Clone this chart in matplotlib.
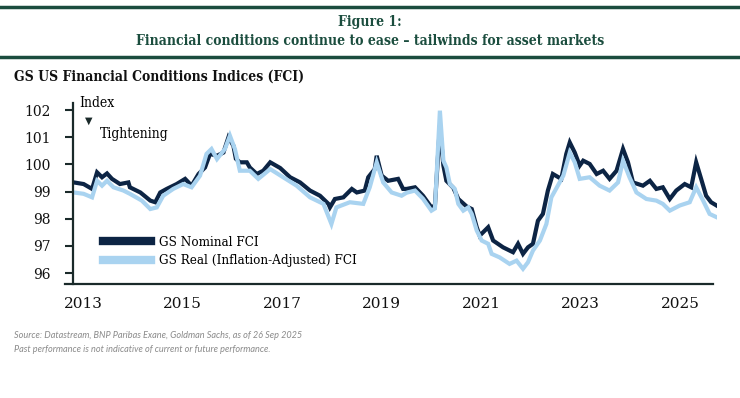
import numpy as np
import matplotlib.pyplot as plt

# decimal years / index levels
nominal_x = [2012.81, 2013.01, 2013.18, 2013.28, 2013.38, 2013.48, 2013.58, 2013.74, 2013.91, 2013.94,
             2014.15, 2014.35, 2014.45, 2014.55, 2014.68, 2014.88, 2015.05, 2015.18, 2015.32, 2015.45,
             2015.55, 2015.69, 2015.82, 2015.92, 2016.02, 2016.07, 2016.15, 2016.29, 2016.35, 2016.49,
             2016.62, 2016.76, 2016.96, 2017.16, 2017.36, 2017.56, 2017.76, 2017.93, 2017.96, 2018.06,
             2018.23, 2018.40, 2018.50, 2018.66, 2018.73, 2018.86, 2018.90, 2019.00, 2019.13, 2019.33,
             2019.43, 2019.50, 2019.67, 2019.83, 2020.00, 2020.07, 2020.17, 2020.24, 2020.30, 2020.44,
             2020.54, 2020.71, 2020.81, 2020.91, 2020.97, 2021.14, 2021.24, 2021.44, 2021.64, 2021.74,
             2021.84, 2021.94, 2022.04, 2022.14, 2022.24, 2022.34, 2022.44, 2022.61, 2022.71, 2022.78,
             2022.88, 2022.98, 2023.05, 2023.18, 2023.32, 2023.45, 2023.58, 2023.72, 2023.85, 2023.95,
             2024.05, 2024.25, 2024.39, 2024.52, 2024.65, 2024.79, 2024.92, 2025.09, 2025.22, 2025.32,
             2025.42, 2025.52, 2025.62, 2025.73]
nominal_fci = [99.34, 99.28, 99.10, 99.71, 99.53, 99.67, 99.47, 99.28, 99.34, 99.16,
               98.97, 98.67, 98.61, 98.97, 99.10, 99.28, 99.47, 99.22, 99.65, 99.89,
               100.39, 100.32, 100.44, 101.00, 100.69, 100.21, 100.08, 100.08, 99.89, 99.65,
               99.77, 100.08, 99.87, 99.53, 99.34, 99.04, 98.85, 98.55, 98.42, 98.73,
               98.79, 99.10, 98.97, 99.04, 99.53, 99.83, 100.32, 99.59, 99.40, 99.47,
               99.10, 99.10, 99.16, 98.85, 98.42, 98.49, 101.43, 99.96, 99.40, 99.14,
               98.73, 98.45, 98.36, 97.69, 97.38, 97.69, 97.20, 96.95, 96.77, 97.08,
               96.71, 96.95, 97.08, 97.93, 98.18, 99.04, 99.65, 99.47, 100.39, 100.81,
               100.44, 99.96, 100.14, 100.02, 99.65, 99.77, 99.47, 99.77, 100.57, 100.08,
               99.34, 99.22, 99.40, 99.10, 99.16, 98.73, 99.04, 99.28, 99.16, 100.08,
               99.47, 98.85, 98.61, 98.49]

real_x = [2012.81, 2013.01, 2013.18, 2013.28, 2013.38, 2013.48, 2013.61, 2013.81, 2013.94, 2014.18,
          2014.35, 2014.48, 2014.61, 2014.81, 2015.01, 2015.18, 2015.35, 2015.48, 2015.58, 2015.69,
          2015.85, 2015.95, 2016.05, 2016.15, 2016.35, 2016.52, 2016.76, 2017.02, 2017.29, 2017.56,
          2017.83, 2017.99, 2018.09, 2018.36, 2018.63, 2018.76, 2018.90, 2019.03, 2019.20, 2019.40,
          2019.50, 2019.67, 2019.83, 2020.00, 2020.07, 2020.17, 2020.24, 2020.30, 2020.37, 2020.47,
          2020.54, 2020.64, 2020.74, 2020.81, 2020.91, 2021.01, 2021.14, 2021.21, 2021.37, 2021.57,
          2021.71, 2021.84, 2021.94, 2022.04, 2022.18, 2022.31, 2022.41, 2022.54, 2022.65, 2022.78,
          2022.88, 2022.98, 2023.18, 2023.38, 2023.58, 2023.75, 2023.85, 2023.98, 2024.12, 2024.32,
          2024.52, 2024.65, 2024.79, 2024.99, 2025.19, 2025.32, 2025.46, 2025.59, 2025.73]
real_fci = [98.97, 98.92, 98.79, 99.40, 99.22, 99.40, 99.16, 99.04, 98.92, 98.67,
            98.36, 98.42, 98.85, 99.10, 99.28, 99.16, 99.59, 100.39, 100.57, 100.20,
            100.57, 101.06, 100.57, 99.77, 99.77, 99.47, 99.83, 99.53, 99.22, 98.79,
            98.55, 97.81, 98.42, 98.61, 98.55, 99.16, 100.08, 99.34, 98.97, 98.85,
            98.96, 99.04, 98.74, 98.30, 98.38, 101.98, 100.14, 99.89, 99.28, 99.10,
            98.55, 98.30, 98.42, 98.18, 97.57, 97.20, 97.08, 96.71, 96.58, 96.34,
            96.46, 96.16, 96.40, 96.83, 97.20, 97.81, 98.79, 99.22, 99.59, 100.44,
            100.08, 99.47, 99.53, 99.22, 99.04, 99.34, 100.14, 99.53, 98.97, 98.73,
            98.67, 98.55, 98.30, 98.49, 98.61, 99.16, 98.67, 98.18, 98.06]

year_ticks = [2013, 2015, 2017, 2019, 2021, 2023, 2025]
index_ticks = [96, 97, 98, 99, 100, 101, 102]

green = '#1b4d3e'
navy = '#0c2444'
light = '#a9d3f0'
serif = 'DejaVu Serif'

fig = plt.figure(figsize=(7.4, 3.98), dpi=100)
ax = fig.add_axes([0.0982, 0.2864, 0.8708, 0.4546])

ax.plot(nominal_x, nominal_fci, color=navy, lw=3.0, solid_joinstyle='miter',
        label='GS Nominal FCI')
ax.plot(real_x, real_fci, color=light, lw=3.0, solid_joinstyle='miter',
        label='GS Real (Inflation-Adjusted) FCI')

ax.set_xlim(2012.79, 2025.74)
ax.set_ylim(95.6, 102.26)
ax.set_xticks(year_ticks)
ax.set_xticklabels([str(y) for y in year_ticks], fontfamily=serif, fontsize=11)
ax.set_yticks(index_ticks)
ax.set_yticklabels([str(v) for v in index_ticks], fontfamily=serif, fontsize=10)
ax.tick_params(axis='x', length=0, pad=9, colors='#111111')
ax.tick_params(axis='y', length=6, width=1.5, pad=10, colors='#1a2a2a', labelcolor='#111111')

for s in ['top', 'right', 'bottom']:
    ax.spines[s].set_visible(False)
ax.spines['left'].set_linewidth(1.6)
ax.spines['left'].set_color('#1a2a2a')
ax.plot([-0.012, 0.994], [0, 0], transform=ax.transAxes, color='#1a2a2a',
        lw=1.6, clip_on=False)

leg = ax.legend(loc='lower left', bbox_to_anchor=(0.028, 0.025), frameon=False,
                handlelength=3.6, handletextpad=0.6, labelspacing=0.4,
                prop={'family': serif, 'size': 9.6, 'stretch': 'condensed'})
for h in leg.legend_handles:
    h.set_linewidth(6)

ax.text(0.011, 1.0, 'Index', transform=ax.transAxes, fontfamily=serif, fontsize=10,
        fontstretch='condensed', va='center', ha='left')
ax.text(0.025, 0.9, '▼', transform=ax.transAxes, fontsize=7, va='center', ha='center',
        color='#1a2a2a')
ax.text(0.042, 0.83, 'Tightening', transform=ax.transAxes, fontfamily=serif, fontsize=10,
        fontstretch='condensed', va='center', ha='left')

# header rules and titles
fig.add_artist(plt.Line2D([0, 1], [0.982, 0.982], color=green, lw=2.5))
fig.add_artist(plt.Line2D([0, 1], [0.858, 0.858], color=green, lw=2.5))
fig.text(0.5, 0.944, 'Figure 1:', ha='center', va='center', fontfamily=serif,
         fontstretch='condensed', fontsize=10, fontweight='bold', color=green)
fig.text(0.5, 0.898, 'Financial conditions continue to ease – tailwinds for asset markets',
         ha='center', va='center', fontfamily=serif, fontstretch='condensed', fontsize=10,
         fontweight='bold', color=green)
fig.text(0.019, 0.808, 'GS US Financial Conditions Indices (FCI)', ha='left', va='center',
         fontfamily=serif, fontstretch='condensed', fontsize=10, fontweight='bold',
         color='#111111')

fig.text(0.019, 0.158, 'Source: Datastream, BNP Paribas Exane, Goldman Sachs, as of 26 Sep 2025',
         ha='left', va='center', fontfamily='Lato', fontstyle='italic', fontsize=6.6,
         color='#8a8a8a')
fig.text(0.019, 0.121, 'Past performance is not indicative of current or future performance.',
         ha='left', va='center', fontfamily='Lato', fontstyle='italic', fontsize=6.6,
         color='#8a8a8a')

fig.savefig('out.png', dpi=100)
